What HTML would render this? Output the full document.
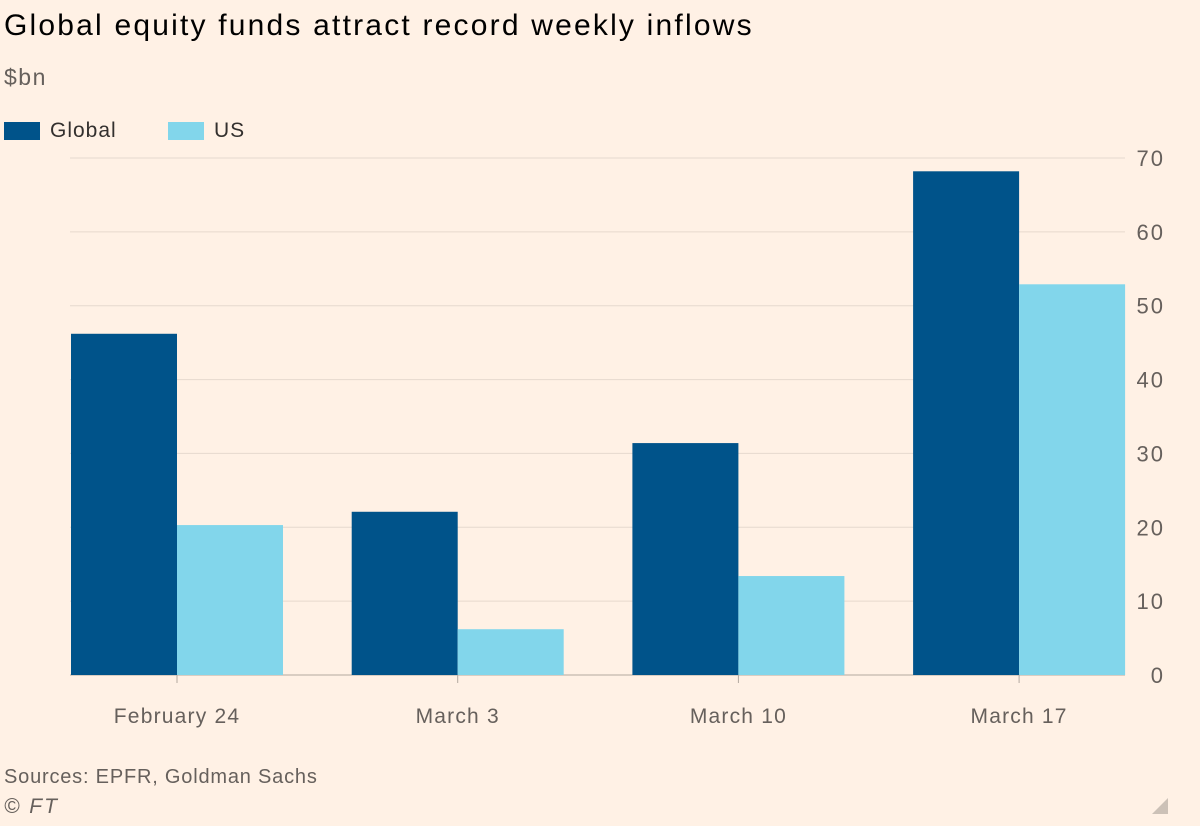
<!DOCTYPE html>
<html><head><meta charset="utf-8"><style>
html,body{margin:0;padding:0;background:#fff1e5;}
body{width:1200px;height:826px;overflow:hidden;font-family:"Liberation Sans",sans-serif;position:relative;}
.t{position:absolute;white-space:nowrap;}
</style></head><body>
<div class="t" style="left:4px;top:9px;font-size:30px;letter-spacing:2.2px;color:#000;">Global equity funds attract record weekly inflows</div>
<div class="t" style="left:4px;top:64px;font-size:23px;letter-spacing:1.5px;color:#66605c;">$bn</div>
<div style="position:absolute;left:4px;top:122px;width:36px;height:18px;background:#00538a;"></div>
<div class="t" style="left:50px;top:119px;font-size:21px;letter-spacing:1px;color:#33302e;">Global</div>
<div style="position:absolute;left:168px;top:122px;width:36px;height:18px;background:#82d6eb;"></div>
<div class="t" style="left:214px;top:119px;font-size:21px;letter-spacing:1px;color:#33302e;">US</div>
<svg id="c" width="1200" height="826" style="position:absolute;left:0;top:0"></svg>
<div class="t" style="left:4px;top:766px;font-size:20px;letter-spacing:0.8px;color:#66605c;">Sources: EPFR, Goldman Sachs</div>
<div class="t" style="left:4px;top:795px;font-size:21px;letter-spacing:2px;font-style:italic;color:#66605c;">© FT</div>
<svg width="20" height="20" style="position:absolute;left:1150px;top:796px"><polygon points="18,2 18,18 2,18" fill="#ccc1b7"/></svg>
<script>
const categories=["February 24","March 3","March 10","March 17"];
const globalVals=[46.2,22.1,31.4,68.2];
const usVals=[20.3,6.2,13.4,52.9];
const ticks=[0,10,20,30,40,50,60,70];
const svg=document.getElementById('c');const NS="http://www.w3.org/2000/svg";
const y=v=>675-v*(675-158)/70;
const cx=i=>177+i*280.7;
function mk(t,a){const e=document.createElementNS(NS,t);for(const k in a)e.setAttribute(k,a[k]);svg.appendChild(e);return e;}
ticks.forEach(v=>{
const l=mk('line',{x1:70,x2:1125,y1:y(v),y2:y(v),stroke:v===0?'#b3a9a0':'#e6d9ce','stroke-width':1});


const t=mk('text',{x:1165,y:y(v)+8,'text-anchor':'end','font-size':22,'letter-spacing':2,fill:'#66605c','font-family':'Liberation Sans, sans-serif'});
t.textContent=v;


});
categories.forEach((c,i)=>{
const g=mk('rect',{x:cx(i)-106,y:y(globalVals[i]),width:106,height:y(0)-y(globalVals[i]),fill:'#00538a'});


const u=mk('rect',{x:cx(i),y:y(usVals[i]),width:106,height:y(0)-y(usVals[i]),fill:'#82d6eb'});


const tk=mk('line',{x1:cx(i),x2:cx(i),y1:675,y2:683,stroke:'#b3a9a0'});


const t=mk('text',{x:cx(i),y:723,'text-anchor':'middle','font-size':21,'letter-spacing':1.2,fill:'#66605c','font-family':'Liberation Sans, sans-serif'});
t.textContent=c;


});
</script>
</body></html>
